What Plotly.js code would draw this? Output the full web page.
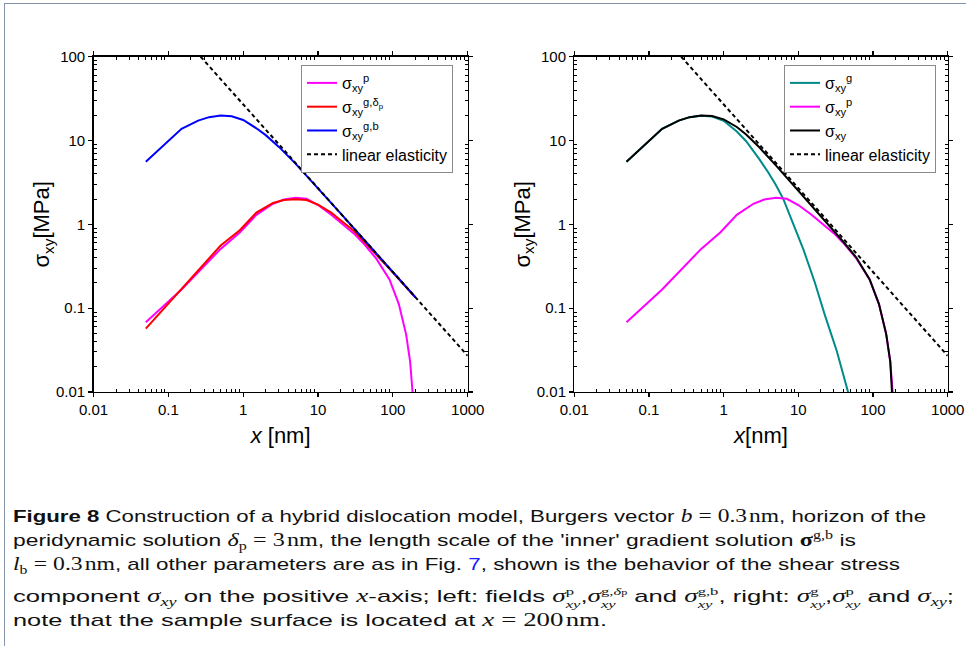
<!DOCTYPE html>
<html>
<head>
<meta charset="utf-8">
<script src="https://cdn.plot.ly/plotly-3.0.1.min.js"></script>
<style>
  html,body{margin:0;padding:0;background:#fff;}
  #wrap{position:relative;width:966px;height:646px;overflow:hidden;background:#fff;}
  #frame{position:absolute;left:4px;top:3px;width:970px;height:660px;border-top:1.5px solid #8595ab;border-left:1.5px solid #8595ab;}
  #plot{position:absolute;left:0;top:0;width:966px;height:646px;}
  .ln{position:absolute;left:13px;height:26px;line-height:26px;white-space:nowrap;font-family:"Liberation Sans","Noto Sans",sans-serif;font-size:17px;color:#111;transform-origin:0 50%;}
  .m{font-family:"Liberation Serif","DejaVu Serif",serif;font-style:italic;font-size:18px;line-height:0;}
  .r{font-family:"Liberation Serif","DejaVu Serif",serif;font-size:18px;line-height:0;}
  .st{display:inline-block;vertical-align:-0.5em;font-size:11px;text-align:left;font-family:"Liberation Serif","DejaVu Serif",serif;}
  .st span{display:block;line-height:13px;height:13px;}
  .sb{font-size:12px;vertical-align:-0.3em;line-height:0;font-family:"Liberation Serif","DejaVu Serif",serif;}
  .sp{font-size:12px;vertical-align:0.55em;line-height:0;font-family:"Liberation Serif","DejaVu Serif",serif;}
</style>
</head>
<body>
<div id="wrap">
  <div id="plot"></div>
  <div id="frame"></div>
  <div class="ln" data-w="913" style="top:504px"><b>Figure 8</b> Construction of a hybrid dislocation model, Burgers vector <span class="m">b</span> <span class="r">= 0.3&#8202;nm</span>, horizon of the</div>
  <div class="ln" data-w="843" style="top:528px">peridynamic solution <span class="m">δ</span><span class="sb">p</span> <span class="r">= 3&#8202;nm</span>, the length scale of the 'inner' gradient solution <span class="r"><b>σ</b></span><span class="sp">g,b</span> is</div>
  <div class="ln" data-w="887" style="top:552px"><span class="m">l</span><span class="sb">b</span> <span class="r">= 0.3&#8202;nm</span>, all other parameters are as in Fig. <span style="color:#1a1aff">7</span>, shown is the behavior of the shear stress</div>
  <div class="ln" data-w="941" style="top:584px">component <span class="m">σ</span><span class="sb"><i>xy</i></span> on the positive <span class="m">x</span>-axis; left: fields <span class="m">σ</span><span class="st"><span>p</span><span><i>xy</i></span></span>,<span class="m">σ</span><span class="st"><span>g,<i>δ</i><span style="display:inline;font-size:8px">p</span></span><span><i>xy</i></span></span> and <span class="m">σ</span><span class="st"><span>g,b</span><span><i>xy</i></span></span>, right: <span class="m">σ</span><span class="st"><span>g</span><span><i>xy</i></span></span>,<span class="m">σ</span><span class="st"><span>p</span><span><i>xy</i></span></span> and <span class="m">σ</span><span class="sb"><i>xy</i></span>;</div>
  <div class="ln" data-w="594" style="top:608px">note that the sample surface is located at <span class="m">x</span> <span class="r">= 200&#8202;nm</span>.</div>
</div>
<script>
// ---------- data ----------
// peridynamic solution sigma_xy^p  (both panels)
const xP = [0.05,0.15,0.5,0.9,1.5,2.5,3.5,5,7,10,15,20,30,40,60,90,120,150,170,183,185];
const sP = [0.068,0.167,0.51,0.8,1.3,1.76,1.98,2.08,2.02,1.7,1.3,1.05,0.78,0.6,0.39,0.22,0.112,0.049,0.023,0.01,0.006];
// gradient solution sigma_xy^{g,delta_p}
const xGd = [0.05,0.15,0.5,0.9,1.5,2.5,3.5,5,7,10,15,20,30,40,60,90,120,150,200];
const sGd = [0.057,0.17,0.56,0.85,1.38,1.8,1.95,2.0,1.95,1.72,1.38,1.12,0.84,0.64,0.44,0.295,0.222,0.178,0.134];
// gradient solution sigma_xy^{g,b}
const xGb = [0.05,0.15,0.25,0.35,0.5,0.7,1,1.5,2,3,5,10,20,50,100,200];
const sGb = [5.6,13.8,17.3,19.0,19.9,19.5,17.6,14.0,11.6,8.4,5.3,2.7,1.35,0.54,0.27,0.135];
// gradient solution sigma_xy^g (right)
const xG = [0.05,0.15,0.25,0.35,0.5,0.7,1,1.5,2,2.5,3,4,5,6.3,8.5,11.7,16.7,22.7,32.6,46.8,50];
const sG = [5.6,13.8,17.3,19.0,19.8,19.3,17.2,12.8,9.8,7.6,6.0,4.1,2.95,2.0,1.0,0.5,0.2,0.082,0.031,0.01,0.0078];
// hybrid total sigma_xy (right)
const xS = [0.05,0.15,0.25,0.35,0.5,0.7,1,1.5,2,3,5,7,10,20,30,40,60,90,120,150,170,183,185];
const sS = [5.6,13.8,17.3,19.0,19.9,19.6,17.9,14.5,11.8,8.3,5.05,3.6,2.5,1.26,0.84,0.62,0.4,0.22,0.112,0.049,0.023,0.01,0.006];
// linear elasticity (straight line in log-log)
const xLin = [0.27,1000];
const sLin = [100,0.027];
// tick labels
const tickVals = [0.01,0.1,1,10,100,1000];
const tickText = ['0.01','0.1','1','10','100','1000'];
const yTickVals = [0.01,0.1,1,10,100];
const yTickText = ['0.01','0.1','1','10','100'];

// ---------- chart ----------
const FONT = '"Liberation Sans", Arial, sans-serif';
function minorTicks(lo, hi){
  const v=[];
  for(let e=lo;e<hi;e++){ for(let k=2;k<=9;k++){ v.push(k*Math.pow(10,e)); } }
  return v;
}
function line(x,y,color,name,legend,xa,ya,dash){
  return {x:x,y:y,type:'scatter',mode:'lines',name:name,legend:legend,xaxis:xa,yaxis:ya,
    line:{color:color,width:2,dash:dash||'solid'},legendgroup:legend+name,hoverinfo:'skip'};
}
const lblP='σ<sub>xy</sub><sup>p</sup>';
const traces=[
  line(xP,sP,'#ff00ff',lblP,'legend','x','y'),
  line(xGd,sGd,'#ff0000','σ<sub>xy</sub><sup>g,δ<sub>p</sub></sup>','legend','x','y'),
  line(xGb,sGb,'#0000ff','σ<sub>xy</sub><sup>g,b</sup>','legend','x','y'),
  line(xLin,sLin,'#000000','linear elasticity','legend','x','y','4px,3px'),
  line(xG,sG,'#008b8b','σ<sub>xy</sub><sup>g</sup>','legend2','x2','y2'),
  line(xP,sP,'#ff00ff',lblP,'legend2','x2','y2'),
  line(xS,sS,'#000000','σ<sub>xy</sub>','legend2','x2','y2'),
  line(xLin,sLin,'#000000','linear elasticity','legend2','x2','y2','4px,3px')
];
function xax(dom,anchor,title){
  return {type:'log',range:[-2,3],domain:dom,anchor:anchor,
    tickmode:'array',tickvals:tickVals,ticktext:tickText,
    ticks:'outside',ticklen:4,tickwidth:1.2,tickcolor:'#000',
    minor:{tickmode:'array',tickvals:minorTicks(-2,3),ticks:'inside',ticklen:3,tickwidth:1,tickcolor:'#000',showgrid:false},
    showline:true,linecolor:'#000',linewidth:1.3,mirror:'allticks',showgrid:false,zeroline:false,
    tickfont:{family:FONT,size:15,color:'#000'},
    title:{text:title,font:{family:FONT,size:22,color:'#000'},standoff:10}};
}
function yax(dom,anchor){
  return {type:'log',range:[-2,2],domain:dom,anchor:anchor,
    tickmode:'array',tickvals:yTickVals,ticktext:yTickText,
    ticks:'outside',ticklen:4,tickwidth:1.2,tickcolor:'#000',
    minor:{tickmode:'array',tickvals:minorTicks(-2,2),ticks:'inside',ticklen:3,tickwidth:1,tickcolor:'#000',showgrid:false},
    showline:true,linecolor:'#000',linewidth:1.3,mirror:'allticks',showgrid:false,zeroline:false,
    tickfont:{family:FONT,size:15,color:'#000'},
    title:{text:'σ<sub>xy</sub>[MPa]',font:{family:FONT,size:22,color:'#000'},standoff:0}};
}
const leg=(x)=>({x:x,y:0.8994,xanchor:'left',yanchor:'top',xref:'paper',yref:'paper',
  bgcolor:'#ffffff',bordercolor:'#8a8a8a',borderwidth:1,font:{family:FONT,size:16,color:'#000'},
  traceorder:'grouped',tracegroupgap:0,itemwidth:30});
const layout={
  width:966,height:646,margin:{l:0,r:0,t:0,b:0},
  paper_bgcolor:'rgba(0,0,0,0)',plot_bgcolor:'#fff',showlegend:true,
  font:{family:FONT,color:'#000'},
  xaxis:xax([0.0968,0.4842],'y','<i>x</i> [nm]'),
  yaxis:yax([0.3932,0.9122],'x'),
  xaxis2:xax([0.5945,0.9811],'y2','<i>x</i>[nm]'),
  yaxis2:yax([0.3932,0.9122],'x2'),
  legend:leg(0.3116),
  legend2:leg(0.8116)
};
Plotly.newPlot('plot',traces,layout,{staticPlot:true,displayModeBar:false});

// fit caption lines to the widths seen in the reference
function fit(){
  document.querySelectorAll('.ln').forEach(el=>{
    el.style.transform='none';
    const w=el.getBoundingClientRect().width;
    const t=parseFloat(el.dataset.w);
    if(w>0) el.style.transform='scaleX('+(t/w)+')';
  });
}
fit();
if(document.fonts && document.fonts.ready) document.fonts.ready.then(fit);
</script>
</body>
</html>
